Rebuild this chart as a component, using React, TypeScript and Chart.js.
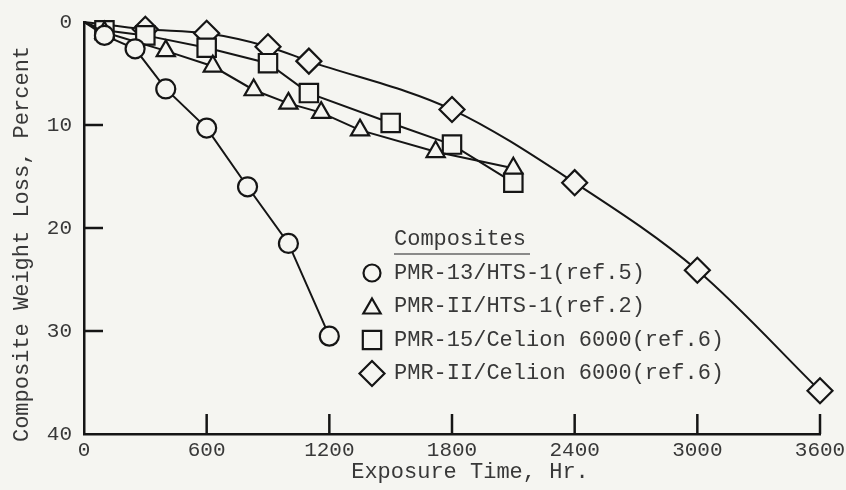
import React, { useEffect, useRef } from 'react';
import { Chart, registerables } from 'chart.js';

Chart.register(...registerables);

// ---- data ----
const xTickValues = [0, 600, 1200, 1800, 2400, 3000, 3600];
const yTickValues = [0, 10, 20, 30, 40];

const xAxisTitle = 'Exposure Time, Hr.';
const yAxisTitle = 'Composite Weight Loss, Percent';
const legendTitle = 'Composites';

const seriesNames = [
  'PMR-13/HTS-1(ref.5)',
  'PMR-II/HTS-1(ref.2)',
  'PMR-15/Celion 6000(ref.6)',
  'PMR-II/Celion 6000(ref.6)',
];

const pmr13HtsHours = [0, 100, 250, 400, 600, 800, 1000, 1200];
const pmr13HtsLoss = [0, 1.3, 2.6, 6.5, 10.3, 16.0, 21.5, 30.5];

const pmrIIHtsHours = [0, 100, 400, 630, 830, 1000, 1160, 1350, 1720, 2100];
const pmrIIHtsLoss = [0, 1.0, 2.8, 4.3, 6.6, 7.9, 8.8, 10.5, 12.6, 14.2];

const pmr15CelionHours = [0, 100, 300, 600, 900, 1100, 1500, 1800, 2100];
const pmr15CelionLoss = [0, 0.8, 1.3, 2.5, 4.0, 6.9, 9.8, 11.9, 15.6];

const pmrIICelionHours = [0, 300, 600, 900, 1100, 1800, 2400, 3000, 3600];
const pmrIICelionLoss = [0, 0.7, 1.1, 2.4, 3.8, 8.5, 15.6, 24.1, 35.8];

// ---- styles ----
const BG = '#f5f5f1';
const INK = '#151515';
const TEXT = '#383838';
const FONT = '"Liberation Mono", "DejaVu Sans Mono", monospace';

const markerStyles = ['circle', 'triangle', 'rect', 'rectRot'];
const markerRadii = [9.5, 10.5, 13, 12.5];
const legendRadii = [8.5, 10, 13, 12.5];
const smoothLines = [false, false, false, true];

function drawMarker(ctx: CanvasRenderingContext2D, style: string, x: number, y: number, r: number) {
  ctx.beginPath();
  if (style === 'circle') {
    ctx.arc(x, y, r, 0, Math.PI * 2);
  } else if (style === 'triangle') {
    ctx.moveTo(x, y - r);
    ctx.lineTo(x + 0.866 * r, y + 0.5 * r);
    ctx.lineTo(x - 0.866 * r, y + 0.5 * r);
    ctx.closePath();
  } else if (style === 'rect') {
    const s = r * Math.SQRT1_2;
    ctx.rect(x - s, y - s, 2 * s, 2 * s);
  } else {
    ctx.moveTo(x - r, y);
    ctx.lineTo(x, y - r);
    ctx.lineTo(x + r, y);
    ctx.lineTo(x, y + r);
    ctx.closePath();
  }
  ctx.fill();
  ctx.stroke();
}

const backgroundPlugin = {
  id: 'bg',
  beforeDraw(chart: any) {
    const { ctx, width, height } = chart;
    ctx.save();
    ctx.fillStyle = BG;
    ctx.fillRect(0, 0, width, height);
    ctx.restore();
  },
};

const innerTicksPlugin = {
  id: 'innerTicks',
  beforeDatasetsDraw(chart: any) {
    const { ctx, chartArea, scales } = chart;
    const x = scales.x;
    const y = scales.y;
    ctx.save();
    ctx.strokeStyle = INK;
    ctx.lineWidth = 2.5;
    x.ticks.forEach((t: any) => {
      if (t.value === 0) return;
      const px = x.getPixelForValue(t.value);
      ctx.beginPath();
      ctx.moveTo(px, chartArea.bottom);
      ctx.lineTo(px, chartArea.bottom - 20);
      ctx.stroke();
    });
    y.ticks.forEach((t: any) => {
      if (t.value === 0 || t.value === 40) return;
      const py = y.getPixelForValue(t.value);
      ctx.beginPath();
      ctx.moveTo(chartArea.left, py);
      ctx.lineTo(chartArea.left + 19, py);
      ctx.stroke();
    });
    ctx.restore();
  },
};

const annotationsPlugin = {
  id: 'annotations',
  afterDraw(chart: any) {
    const { ctx, chartArea } = chart;
    ctx.save();
    ctx.fillStyle = TEXT;
    // axis titles
    ctx.font = `22px ${FONT}`;
    ctx.textAlign = 'center';
    ctx.textBaseline = 'middle';
    ctx.fillText(xAxisTitle, chartArea.left + 386, chartArea.bottom + 38);
    ctx.save();
    ctx.translate(chartArea.left - 62, chartArea.top + 222);
    ctx.rotate(-Math.PI / 2);
    ctx.fillText(yAxisTitle, 0, 0);
    ctx.restore();

    // legend
    const lx = chartArea.left + 310;
    const mx = chartArea.left + 288;
    ctx.textAlign = 'left';
    ctx.font = `22px ${FONT}`;
    ctx.fillText(legendTitle, lx, chartArea.top + 217);
    const tw = ctx.measureText(legendTitle).width;
    ctx.strokeStyle = '#666';
    ctx.lineWidth = 1.5;
    ctx.beginPath();
    ctx.moveTo(lx, chartArea.top + 232);
    ctx.lineTo(lx + tw + 4, chartArea.top + 232);
    ctx.stroke();

    ctx.strokeStyle = INK;
    ctx.lineWidth = 2.2;
    seriesNames.forEach((name, i) => {
      const cy = chartArea.top + 251 + i * 33.5;
      ctx.fillStyle = BG;
      drawMarker(ctx, markerStyles[i], mx, cy + (i === 1 ? 2 : 0), legendRadii[i]);
      ctx.fillStyle = TEXT;
      ctx.fillText(name, lx, cy);
    });
    ctx.restore();
  },
};

function makeDataset(label: string, hours: number[], loss: number[], idx: number) {
  const r = markerRadii[idx];
  const ds: any = {
    label,
    data: hours.map((h, i) => ({ x: h, y: loss[i] })),
    borderColor: INK,
    borderWidth: 2,
    pointStyle: markerStyles[idx],
    pointRadius: (c: any) => (c.raw && c.raw.x === 0 ? 0 : r),
    pointHoverRadius: (c: any) => (c.raw && c.raw.x === 0 ? 0 : r),
    pointBorderWidth: 2.2,
    pointBorderColor: INK,
    pointBackgroundColor: BG,
    tension: 0,
    fill: false,
    clip: false,
  };
  if (smoothLines[idx]) ds.cubicInterpolationMode = 'monotone';
  return ds;
}

export default function App() {
  const canvasRef = useRef<HTMLCanvasElement>(null);

  useEffect(() => {
    document.body.style.margin = '0';
    document.body.style.background = BG;
    const canvas = canvasRef.current;
    if (!canvas) return;
    const chart = new Chart(canvas, {
      type: 'line',
      data: {
        datasets: [
          makeDataset(seriesNames[0], pmr13HtsHours, pmr13HtsLoss, 0),
          makeDataset(seriesNames[1], pmrIIHtsHours, pmrIIHtsLoss, 1),
          makeDataset(seriesNames[2], pmr15CelionHours, pmr15CelionLoss, 2),
          makeDataset(seriesNames[3], pmrIICelionHours, pmrIICelionLoss, 3),
        ],
      },
      options: {
        responsive: false,
        animation: false,
        devicePixelRatio: 1,
        layout: { padding: { top: 22, right: 26, left: 0, bottom: 0 } },
        plugins: {
          legend: { display: false },
          tooltip: { enabled: false },
          title: { display: false },
        },
        scales: {
          x: {
            type: 'linear',
            min: 0,
            max: 3600,
            afterBuildTicks: (s: any) => {
              s.ticks = xTickValues.map((v) => ({ value: v }));
            },
            afterFit: (s: any) => {
              s.height = 56;
              s.paddingLeft = 0;
              s.paddingRight = 0;
            },
            grid: { display: true, drawOnChartArea: false, drawTicks: false },
            border: { display: true, color: INK, width: 2.5 },
            ticks: {
              font: { family: FONT, size: 21 },
              color: TEXT,
              padding: 4,
              maxRotation: 0,
              autoSkip: false,
              callback: (v: any) => String(v),
            },
          },
          y: {
            type: 'linear',
            reverse: true,
            min: 0,
            max: 40,
            afterBuildTicks: (s: any) => {
              s.ticks = yTickValues.map((v) => ({ value: v }));
            },
            afterFit: (s: any) => {
              s.width = 84;
              s.paddingTop = 0;
              s.paddingBottom = 0;
            },
            grid: { display: true, drawOnChartArea: false, drawTicks: false },
            border: { display: true, color: INK, width: 2.5 },
            ticks: {
              font: { family: FONT, size: 21 },
              color: TEXT,
              padding: 12,
              autoSkip: false,
              callback: (v: any) => String(v),
            },
          },
        },
      } as any,
      plugins: [backgroundPlugin, innerTicksPlugin, annotationsPlugin],
    });
    return () => chart.destroy();
  }, []);

  return (
    <div style={{ width: 846, height: 490, background: BG }}>
      <canvas ref={canvasRef} width={846} height={490} />
    </div>
  );
}
